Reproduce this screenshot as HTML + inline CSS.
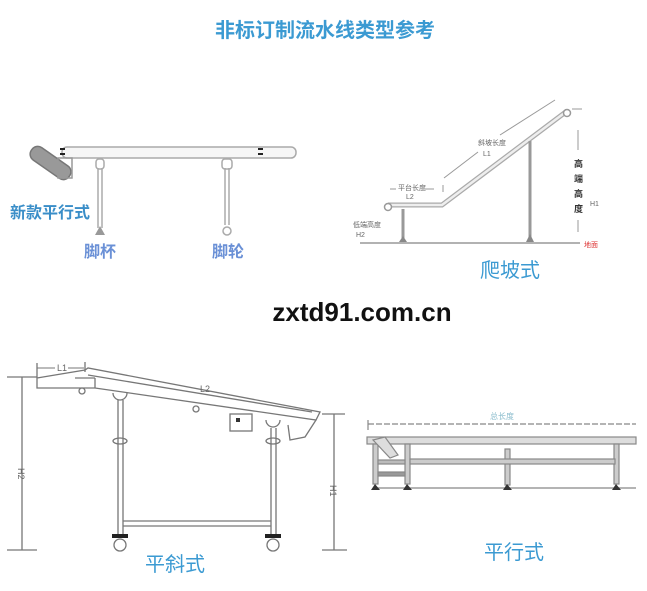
<!DOCTYPE html>
<html><head><meta charset="utf-8"><style>
html,body{margin:0;padding:0;background:#fff;}
svg{display:block}
text{font-family:"Liberation Sans","Noto Sans CJK SC",sans-serif}
</style></head><body>
<svg width="647" height="591" viewBox="0 0 647 591" xmlns="http://www.w3.org/2000/svg">
<rect width="647" height="591" fill="#fff"/>
<text x="325" y="37" text-anchor="middle" font-size="20" font-weight="bold" fill="#3b9ad2">非标订制流水线类型参考</text>

<!-- Panel 1 -->
<g stroke="#aaa" fill="none" stroke-width="1.5">
  <rect x="62" y="147" width="234" height="11" rx="5" fill="#f6f6f6"/>
  <g transform="rotate(35 50 162)"><rect x="28" y="155" width="46" height="15" rx="7" fill="#999" stroke="#777"/></g>
  <rect x="58" y="158" width="14" height="20" stroke="#999"/>
  <rect x="96" y="159" width="8" height="10" rx="3"/>
  <line x1="98" y1="168" x2="98" y2="228"/><line x1="102" y1="168" x2="102" y2="228"/>
  <rect x="222" y="159" width="10" height="10" rx="3"/>
  <line x1="225" y1="168" x2="225" y2="225"/><line x1="229" y1="168" x2="229" y2="225"/>
  <circle cx="227" cy="231" r="4"/>
</g>
<rect x="60" y="148" width="5" height="2" fill="#222"/><rect x="60" y="153" width="5" height="2" fill="#222"/>
<rect x="258" y="148" width="5" height="2" fill="#222"/><rect x="258" y="153" width="5" height="2" fill="#222"/>
<polygon points="100,226 95,235 105,235" fill="#999"/>
<text x="10" y="218" font-size="16" font-weight="bold" fill="#3a8ec8">新款平行式</text>
<text x="84" y="257" font-size="16" font-weight="bold" fill="#6a90d6">脚杯</text>
<text x="212" y="257" font-size="16" font-weight="bold" fill="#6a90d6">脚轮</text>

<!-- Panel 2 -->
<g stroke="#999" fill="none" stroke-width="1.5">
  <line x1="360" y1="243" x2="580" y2="243"/>
  <polyline points="388,205 442,205 567,111" stroke-width="5" stroke="#aaa"/>
  <polyline points="388,205 442,205 567,111" stroke-width="2.5" stroke="#eee"/>
  <circle cx="388" cy="207" r="3.5" fill="#fff"/>
  <circle cx="567" cy="113" r="3.5" fill="#fff"/>
  <line x1="403" y1="209" x2="403" y2="238" stroke-width="3"/>
  <line x1="530" y1="141" x2="530" y2="237" stroke-width="3"/>
  <line x1="443" y1="185" x2="443" y2="192" stroke-width="1"/>
  <line x1="390" y1="189" x2="396" y2="189" stroke-width="1"/><line x1="425" y1="189" x2="434" y2="189" stroke-width="1"/>
  <line x1="444" y1="178" x2="478" y2="152" stroke-width="1"/><line x1="500" y1="135" x2="555" y2="100" stroke-width="1"/>
  <line x1="572" y1="109" x2="582" y2="109" stroke-width="1"/>
  <line x1="578" y1="130" x2="578" y2="150" stroke-width="1"/><line x1="578" y1="220" x2="578" y2="232" stroke-width="1"/>
</g>
<polygon points="403,236 399,242 407,242" fill="#888"/>
<polygon points="530,234 526,242 534,242" fill="#888"/>
<g font-size="7" fill="#666">
<text x="478" y="145">斜坡长度</text><text x="483" y="156">L1</text>
<text x="398" y="190">平台长度</text><text x="406" y="199">L2</text>
<text x="353" y="227">低端高度</text><text x="356" y="237">H2</text>
<text x="590" y="206">H1</text>
</g>
<text x="584" y="247" font-size="7" fill="#d33">地面</text>
<g font-size="9" font-weight="bold" fill="#333"><text x="574" y="167">高</text><text x="574" y="182">端</text><text x="574" y="197">高</text><text x="574" y="212">度</text></g>
<text x="480" y="277" font-size="20" fill="#3b9ad2">爬坡式</text>

<text x="362" y="321" text-anchor="middle" font-size="26" font-weight="bold" fill="#111">zxtd91.com.cn</text>

<!-- Panel 3 -->
<g stroke="#777" fill="none" stroke-width="1.3">
  <line x1="7" y1="377" x2="37" y2="377"/>
  <line x1="22" y1="377" x2="22" y2="550"/>
  <line x1="7" y1="550" x2="37" y2="550"/>
  <line x1="37" y1="363" x2="37" y2="378"/><line x1="85" y1="362" x2="85" y2="372"/>
  <line x1="37" y1="368" x2="55" y2="368" stroke-width="1"/><line x1="68" y1="368" x2="84" y2="368" stroke-width="1"/>
  <polyline points="37,378 37,388 95,388 316,420 320,412 88,368 85,370 37,378"/>
  <line x1="75" y1="378" x2="95" y2="378"/><line x1="95" y1="378" x2="95" y2="388"/>
  <line x1="88" y1="375" x2="312" y2="412"/>
  <path d="M316,420 L305,437 L290,440 L288,425"/>
  <rect x="230" y="414" width="22" height="17"/>
  <path d="M113,393 a7,7 0 0 0 14,0"/><path d="M266,420 a7,7 0 0 0 14,0"/>
  <circle cx="82" cy="391" r="3"/><circle cx="196" cy="409" r="3"/>
  <line x1="118" y1="400" x2="118" y2="535"/><line x1="123" y1="400" x2="123" y2="535"/>
  <line x1="271" y1="428" x2="271" y2="535"/><line x1="276" y1="428" x2="276" y2="535"/>
  <line x1="123" y1="521" x2="271" y2="521"/><line x1="123" y1="526" x2="271" y2="526"/>
  <ellipse cx="120" cy="441" rx="7" ry="3"/><ellipse cx="273" cy="441" rx="7" ry="3"/>
  <circle cx="120" cy="545" r="6"/><circle cx="273" cy="545" r="6"/>
  <line x1="322" y1="414" x2="345" y2="414"/>
  <line x1="334" y1="414" x2="334" y2="550"/>
  <line x1="322" y1="550" x2="347" y2="550"/>
</g>
<rect x="112" y="534" width="16" height="4" fill="#222"/><rect x="265" y="534" width="16" height="4" fill="#222"/>
<rect x="236" y="418" width="4" height="4" fill="#333"/>
<g font-size="9" fill="#666"><text x="57" y="371">L1</text><text x="200" y="392">L2</text>
<text x="18" y="468" transform="rotate(90 18 468)">H2</text><text x="330" y="485" transform="rotate(90 330 485)">H1</text></g>
<text x="145" y="571" font-size="20" fill="#3b9ad2">平斜式</text>

<!-- Panel 4 -->
<g stroke="#888" fill="none" stroke-width="1.2">
  <line x1="368" y1="424" x2="636" y2="424" stroke-dasharray="6,2"/>
  <line x1="368" y1="420" x2="368" y2="430"/>
  <rect x="367" y="437" width="269" height="7" fill="#ddd"/>
  <line x1="375" y1="488" x2="636" y2="488"/>
  <rect x="373" y="444" width="5" height="40" fill="#ccc"/>
  <rect x="405" y="444" width="5" height="40" fill="#ccc"/>
  <rect x="505" y="449" width="5" height="36" fill="#ccc"/>
  <rect x="614" y="444" width="5" height="40" fill="#ccc"/>
  <rect x="410" y="459" width="205" height="5" fill="#ccc"/>
  <rect x="378" y="472" width="27" height="4" fill="#999"/>
  <rect x="378" y="460" width="27" height="4" fill="#bbb"/>
  <path d="M373,440 L385,437 L398,455 L390,458 Z" fill="#ddd"/>
</g>
<polygon points="375,484 371,490 380,490" fill="#333"/><polygon points="407,484 403,490 412,490" fill="#333"/>
<polygon points="507,484 503,490 512,490" fill="#333"/><polygon points="616,484 612,490 621,490" fill="#333"/>
<text x="490" y="419" font-size="8" fill="#8bc">总长度</text>
<text x="484" y="559" font-size="20" fill="#3b9ad2">平行式</text>
</svg>
</body></html>
